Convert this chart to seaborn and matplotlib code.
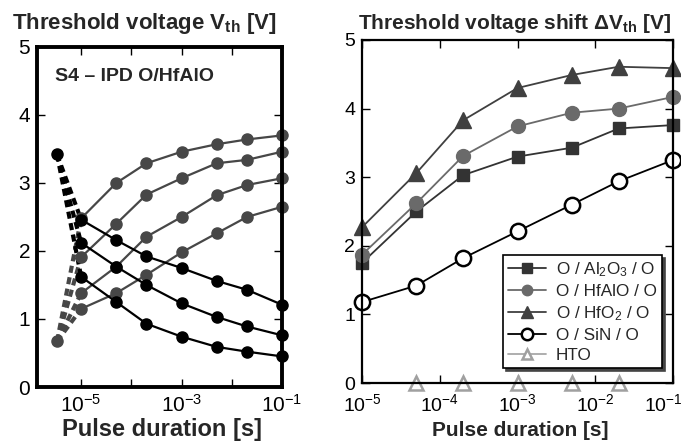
import matplotlib
matplotlib.use('Agg')
import matplotlib.pyplot as plt
import matplotlib.transforms as mtransforms
import seaborn as sns
from matplotlib.ticker import FixedLocator, FixedFormatter, NullLocator

sns.set_style('ticks')
plt.rcParams['font.family'] = ['Liberation Sans', 'DejaVu Sans']
plt.rcParams['mathtext.fontset'] = 'custom'
plt.rcParams['mathtext.rm'] = 'Liberation Sans'
plt.rcParams['mathtext.it'] = 'Liberation Sans:italic'
plt.rcParams['mathtext.bf'] = 'Liberation Sans:bold'

# ---------------- data ----------------
pulse = [1e-5, 5e-5, 2e-4, 1e-3, 5e-3, 2e-2, 1e-1]
start_pulse = 3.3e-6
erase_start = 3.42
program_start = 0.67

# left panel: S4 - IPD O/HfAlO
prog_a = [2.48, 3.00, 3.29, 3.46, 3.57, 3.64, 3.70]
prog_b = [1.91, 2.40, 2.83, 3.07, 3.29, 3.34, 3.46]
prog_c = [1.38, 1.77, 2.21, 2.50, 2.82, 2.97, 3.07]
prog_d = [1.15, 1.38, 1.65, 1.98, 2.26, 2.50, 2.65]
erase_e = [2.46, 2.16, 1.92, 1.75, 1.56, 1.43, 1.21]
erase_f = [2.12, 1.77, 1.50, 1.23, 1.03, 0.89, 0.76]
erase_g = [1.62, 1.25, 0.93, 0.74, 0.59, 0.52, 0.45]

# right panel: threshold voltage shift
al2o3 = [1.75, 2.50, 3.03, 3.30, 3.43, 3.71, 3.76]
hfalo = [1.87, 2.62, 3.31, 3.74, 3.94, 4.00, 4.17]
hfo2 = [2.27, 3.06, 3.83, 4.30, 4.49, 4.61, 4.59]
sin = [1.18, 1.42, 1.82, 2.21, 2.60, 2.94, 3.25]
hto_pulse = [5e-5, 2e-4, 1e-3, 5e-3, 2e-2]
hto = [0, 0, 0, 0, 0]

legend_labels = ['O / Al$_2$O$_3$ / O', 'O / HfAlO / O', 'O / HfO$_2$ / O',
                 'O / SiN / O', 'HTO']
left_xticks = [1e-5, 1e-4, 1e-3, 1e-2, 1e-1]
left_xticklabels = ['$10^{-5}$', '', '$10^{-3}$', '', '$10^{-1}$']
right_xticks = [1e-5, 1e-4, 1e-3, 1e-2, 1e-1]
right_xticklabels = ['$10^{-5}$', '$10^{-4}$', '$10^{-3}$', '$10^{-2}$', '$10^{-1}$']
yticks = [0, 1, 2, 3, 4, 5]


def draw(ax, x, y, color, marker=None, ms=8, lw=1.3, mfc=None, mec=None,
         ls='-', clip=False, mew=1.0):
    kw = dict(x=x, y=y, ax=ax, color=color, linewidth=lw, linestyle=ls,
              clip_on=clip, legend=False, estimator=None, sort=False)
    if marker is not None:
        kw.update(marker=marker, markersize=ms,
                  markerfacecolor=mfc if mfc is not None else color,
                  markeredgecolor=mec if mec is not None else color,
                  markeredgewidth=mew)
    sns.lineplot(**kw)
    return ax.lines[-1]


fig = plt.figure(figsize=(6.81, 4.44), dpi=100)

# ---------------- left panel ----------------
axl = fig.add_axes([37 / 681, 1 - 387 / 444, 245 / 681, 340 / 444])
axl.set_xscale('log')
gray = '#474747'
black = '#000000'
dash = (0, (1.7, 1.1))
for ser in [prog_a, prog_b, prog_c, prog_d]:
    draw(axl, [start_pulse, pulse[0]], [program_start, ser[0]], gray,
         lw=3.0, ls=dash)
for ser in [erase_e, erase_f, erase_g]:
    draw(axl, [start_pulse, pulse[0]], [erase_start, ser[0]], black,
         lw=3.0, ls=dash)
draw(axl, [start_pulse], [program_start], gray, marker='o', ms=8, lw=0)
draw(axl, [start_pulse], [erase_start], black, marker='o', ms=8, lw=0)
for ser in [prog_a, prog_b, prog_c, prog_d]:
    draw(axl, pulse, ser, gray, marker='o', ms=8, lw=1.6)
for ser in [erase_e, erase_f, erase_g]:
    draw(axl, pulse, ser, black, marker='o', ms=8, lw=1.6)

axl.set_xlim(10 ** -5.88, 1e-1)
axl.set_ylim(0, 5)
axl.xaxis.set_major_locator(FixedLocator(left_xticks))
axl.xaxis.set_major_formatter(FixedFormatter(left_xticklabels))
axl.xaxis.set_minor_locator(NullLocator())
axl.set_yticks(yticks)
axl.set_yticklabels([str(v) for v in yticks])
axl.tick_params(axis='both', which='both', direction='in', top=True,
                right=True, length=6, width=1.0, labelsize=15, colors='black')
axl.tick_params(axis='x', pad=5)
axl.tick_params(axis='y', pad=5)
for s in axl.spines.values():
    s.set_linewidth(2.8)
    s.set_color('black')
axl.set_xlabel('')
axl.set_ylabel('')
axl.text(0.073, 0.9, 'S4 \u2013 IPD O/HfAlO', transform=axl.transAxes,
         fontsize=14, fontweight='bold', ha='left', va='baseline')

# ---------------- right panel ----------------
axr = fig.add_axes([362 / 681, 1 - 383 / 444, 311 / 681, 343 / 444])
axr.set_xscale('log')
h1 = draw(axr, pulse, al2o3, '#333333', marker='s', ms=9, lw=1.3)
h2 = draw(axr, pulse, hfalo, '#6a6a6a', marker='o', ms=10, lw=1.3)
h3 = draw(axr, pulse, hfo2, '#404040', marker='^', ms=12, lw=1.3)
h4 = draw(axr, pulse, sin, '#000000', marker='o', ms=11, lw=1.3,
          mfc='white', mec='black', mew=1.8)
h5 = draw(axr, hto_pulse, hto, '#a8a8a8', marker='^', ms=10, lw=1.3,
          mfc='white', mec='#a0a0a0', mew=1.8)

axr.set_xlim(1e-5, 1e-1)
axr.set_ylim(0, 5)
axr.xaxis.set_major_locator(FixedLocator(right_xticks))
axr.xaxis.set_major_formatter(FixedFormatter(right_xticklabels))
axr.xaxis.set_minor_locator(NullLocator())
axr.set_yticks(yticks)
axr.set_yticklabels([str(v) for v in yticks])
axr.tick_params(axis='both', which='both', direction='in', top=True,
                right=True, length=6, width=1.0, labelsize=14, colors='black')
axr.tick_params(axis='x', pad=7)
axr.tick_params(axis='y', pad=5)
for s in axr.spines.values():
    s.set_linewidth(1.6)
    s.set_color('black')
axr.set_xlabel('')
axr.set_ylabel('')
# pull the last tick label a bit left so it stays inside the figure
last = axr.get_xticklabels()[-1]
last.set_transform(last.get_transform() +
                   mtransforms.ScaledTranslation(-10 / 100, 0, fig.dpi_scale_trans))

leg = axr.legend([h1, h2, h3, h4, h5], legend_labels, loc='lower right',
                 bbox_to_anchor=(0.965, 0.044), fontsize=12.3, frameon=True,
                 fancybox=False, shadow={'color': '#444444', 'alpha': 1.0},
                 framealpha=1.0, edgecolor='black', handlelength=2.2,
                 labelspacing=0.3, borderpad=0.3, handletextpad=0.6,
                 borderaxespad=0.0, markerscale=0.75)
leg.get_frame().set_linewidth(1.2)
leg.set_zorder(10)

# ---------------- titles and labels ----------------
fig.text(12 / 681, 1 - 29 / 444, 'Threshold voltage V$_{\\mathbf{th}}$ [V]',
         fontsize=16, fontweight='bold', ha='left', va='baseline')
fig.text(358 / 681, 1 - 29 / 444,
         'Threshold voltage shift \u0394V$_{\\mathbf{th}}$ [V]',
         fontsize=15, fontweight='bold', ha='left', va='baseline')
fig.text(162 / 681, 1 - 436 / 444, 'Pulse duration [s]', fontsize=17,
         fontweight='bold', ha='center', va='baseline')
fig.text(520 / 681, 1 - 436 / 444, 'Pulse duration [s]', fontsize=15,
         fontweight='bold', ha='center', va='baseline')

fig.savefig('out.png', dpi=100)
